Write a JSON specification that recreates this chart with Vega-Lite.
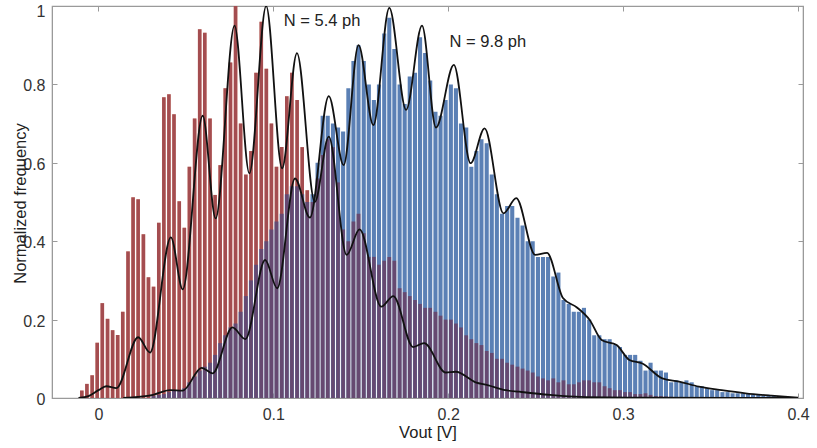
{
  "$schema": "https://vega.github.io/schema/vega-lite/v6.json",
  "width": 751,
  "height": 392,
  "autosize": {"type": "none"},
  "padding": {"left": 52, "top": 6, "right": 14, "bottom": 50},
  "background": "white",
  "config": {
    "view": {"stroke": "#9a9a9a", "strokeWidth": 1.2},
    "font": "Liberation Sans",
    "axis": {
      "domainColor": "#9a9a9a",
      "tickColor": "#9a9a9a",
      "labelFontSize": 16,
      "labelColor": "#333333",
      "titleFontSize": 16.5,
      "titleColor": "#222222",
      "labelFont": "Liberation Sans",
      "titleFont": "Liberation Sans",
      "titleFontWeight": "normal",
      "grid": false,
      "tickSize": -5,
      "labelPadding": 12
    }
  },
  "datasets": {
    "hist": [
      {"v": -0.0095, "r": 0.019, "b": 0},
      {"v": -0.0066, "r": 0.036, "b": 0},
      {"v": -0.0036, "r": 0.058, "b": 0},
      {"v": -0.0007, "r": 0.141, "b": 0},
      {"v": 0.0022, "r": 0.242, "b": 0},
      {"v": 0.0052, "r": 0.202, "b": 0},
      {"v": 0.0081, "r": 0.173, "b": 0},
      {"v": 0.0110, "r": 0.161, "b": 0},
      {"v": 0.0139, "r": 0.220, "b": 0},
      {"v": 0.0169, "r": 0.374, "b": 0},
      {"v": 0.0198, "r": 0.512, "b": 0},
      {"v": 0.0227, "r": 0.507, "b": 0},
      {"v": 0.0257, "r": 0.418, "b": 0},
      {"v": 0.0286, "r": 0.308, "b": 0},
      {"v": 0.0315, "r": 0.284, "b": 0.005},
      {"v": 0.0345, "r": 0.447, "b": 0.008},
      {"v": 0.0374, "r": 0.767, "b": 0.01},
      {"v": 0.0403, "r": 0.775, "b": 0.015},
      {"v": 0.0432, "r": 0.724, "b": 0.018},
      {"v": 0.0462, "r": 0.502, "b": 0.02},
      {"v": 0.0491, "r": 0.434, "b": 0.025},
      {"v": 0.0520, "r": 0.590, "b": 0.04},
      {"v": 0.0550, "r": 0.713, "b": 0.055},
      {"v": 0.0579, "r": 0.941, "b": 0.07},
      {"v": 0.0608, "r": 0.932, "b": 0.08},
      {"v": 0.0638, "r": 0.713, "b": 0.09},
      {"v": 0.0667, "r": 0.518, "b": 0.11},
      {"v": 0.0696, "r": 0.594, "b": 0.14},
      {"v": 0.0725, "r": 0.790, "b": 0.16},
      {"v": 0.0755, "r": 0.856, "b": 0.18},
      {"v": 0.0784, "r": 1.0, "b": 0.19},
      {"v": 0.0813, "r": 0.70, "b": 0.22},
      {"v": 0.0843, "r": 0.57, "b": 0.26},
      {"v": 0.0872, "r": 0.63, "b": 0.30},
      {"v": 0.0901, "r": 0.83, "b": 0.34},
      {"v": 0.0931, "r": 0.96, "b": 0.38},
      {"v": 0.0960, "r": 0.84, "b": 0.40},
      {"v": 0.0989, "r": 0.70, "b": 0.43},
      {"v": 0.1018, "r": 0.59, "b": 0.45},
      {"v": 0.1048, "r": 0.64, "b": 0.47},
      {"v": 0.1077, "r": 0.77, "b": 0.52},
      {"v": 0.1106, "r": 0.83, "b": 0.54},
      {"v": 0.1136, "r": 0.76, "b": 0.54},
      {"v": 0.1165, "r": 0.64, "b": 0.52},
      {"v": 0.1194, "r": 0.53, "b": 0.50},
      {"v": 0.1224, "r": 0.50, "b": 0.52},
      {"v": 0.1253, "r": 0.56, "b": 0.60},
      {"v": 0.1282, "r": 0.62, "b": 0.72},
      {"v": 0.1311, "r": 0.66, "b": 0.72},
      {"v": 0.1341, "r": 0.64, "b": 0.70},
      {"v": 0.1370, "r": 0.55, "b": 0.69},
      {"v": 0.1399, "r": 0.43, "b": 0.68},
      {"v": 0.1429, "r": 0.40, "b": 0.79},
      {"v": 0.1458, "r": 0.45, "b": 0.86},
      {"v": 0.1487, "r": 0.47, "b": 0.90},
      {"v": 0.1517, "r": 0.42, "b": 0.86},
      {"v": 0.1546, "r": 0.36, "b": 0.80},
      {"v": 0.1575, "r": 0.36, "b": 0.76},
      {"v": 0.1604, "r": 0.34, "b": 0.80},
      {"v": 0.1634, "r": 0.35, "b": 0.93},
      {"v": 0.1663, "r": 0.36, "b": 0.97},
      {"v": 0.1692, "r": 0.35, "b": 0.89},
      {"v": 0.1722, "r": 0.28, "b": 0.80},
      {"v": 0.1751, "r": 0.27, "b": 0.75},
      {"v": 0.1780, "r": 0.26, "b": 0.82},
      {"v": 0.1810, "r": 0.25, "b": 0.83},
      {"v": 0.1839, "r": 0.24, "b": 0.92},
      {"v": 0.1868, "r": 0.23, "b": 0.88},
      {"v": 0.1897, "r": 0.23, "b": 0.81},
      {"v": 0.1927, "r": 0.22, "b": 0.73},
      {"v": 0.1956, "r": 0.21, "b": 0.72},
      {"v": 0.1985, "r": 0.20, "b": 0.76},
      {"v": 0.2015, "r": 0.20, "b": 0.80},
      {"v": 0.2044, "r": 0.19, "b": 0.79},
      {"v": 0.2073, "r": 0.18, "b": 0.70},
      {"v": 0.2103, "r": 0.16, "b": 0.69},
      {"v": 0.2132, "r": 0.15, "b": 0.59},
      {"v": 0.2161, "r": 0.14, "b": 0.63},
      {"v": 0.2190, "r": 0.135, "b": 0.66},
      {"v": 0.2220, "r": 0.12, "b": 0.65},
      {"v": 0.2249, "r": 0.115, "b": 0.57},
      {"v": 0.2278, "r": 0.10, "b": 0.52},
      {"v": 0.2308, "r": 0.10, "b": 0.47},
      {"v": 0.2337, "r": 0.09, "b": 0.49},
      {"v": 0.2366, "r": 0.085, "b": 0.49},
      {"v": 0.2396, "r": 0.08, "b": 0.46},
      {"v": 0.2425, "r": 0.075, "b": 0.44},
      {"v": 0.2454, "r": 0.07, "b": 0.40},
      {"v": 0.2483, "r": 0.065, "b": 0.40},
      {"v": 0.2513, "r": 0.055, "b": 0.36},
      {"v": 0.2542, "r": 0.05, "b": 0.36},
      {"v": 0.2571, "r": 0.045, "b": 0.36},
      {"v": 0.2601, "r": 0.05, "b": 0.31},
      {"v": 0.2630, "r": 0.04, "b": 0.32},
      {"v": 0.2659, "r": 0.045, "b": 0.25},
      {"v": 0.2689, "r": 0.035, "b": 0.24},
      {"v": 0.2718, "r": 0.035, "b": 0.22},
      {"v": 0.2747, "r": 0.04, "b": 0.22},
      {"v": 0.2776, "r": 0.045, "b": 0.23},
      {"v": 0.2806, "r": 0.045, "b": 0.20},
      {"v": 0.2835, "r": 0.04, "b": 0.16},
      {"v": 0.2864, "r": 0.04, "b": 0.16},
      {"v": 0.2894, "r": 0.03, "b": 0.15},
      {"v": 0.2923, "r": 0.025, "b": 0.15},
      {"v": 0.2952, "r": 0.02, "b": 0.135},
      {"v": 0.2982, "r": 0.02, "b": 0.13},
      {"v": 0.3011, "r": 0.015, "b": 0.11},
      {"v": 0.3040, "r": 0.015, "b": 0.11},
      {"v": 0.3069, "r": 0.01, "b": 0.11},
      {"v": 0.3099, "r": 0.01, "b": 0.095},
      {"v": 0.3128, "r": 0.012, "b": 0.07},
      {"v": 0.3157, "r": 0.008, "b": 0.09},
      {"v": 0.3187, "r": 0.005, "b": 0.07},
      {"v": 0.3216, "r": 0.005, "b": 0.07},
      {"v": 0.3245, "r": 0.004, "b": 0.065},
      {"v": 0.3275, "r": 0.003, "b": 0.04},
      {"v": 0.3304, "r": 0, "b": 0.045},
      {"v": 0.3333, "r": 0, "b": 0.04},
      {"v": 0.3362, "r": 0, "b": 0.045},
      {"v": 0.3392, "r": 0, "b": 0.04},
      {"v": 0.3421, "r": 0, "b": 0.03},
      {"v": 0.3450, "r": 0, "b": 0.03},
      {"v": 0.3480, "r": 0, "b": 0.025},
      {"v": 0.3509, "r": 0, "b": 0.02},
      {"v": 0.3538, "r": 0, "b": 0.02},
      {"v": 0.3568, "r": 0, "b": 0.015},
      {"v": 0.3597, "r": 0, "b": 0.015},
      {"v": 0.3626, "r": 0, "b": 0.012},
      {"v": 0.3655, "r": 0, "b": 0.012},
      {"v": 0.3685, "r": 0, "b": 0.012},
      {"v": 0.3714, "r": 0, "b": 0.01},
      {"v": 0.3743, "r": 0, "b": 0.008},
      {"v": 0.3773, "r": 0, "b": 0.008},
      {"v": 0.3802, "r": 0, "b": 0.006},
      {"v": 0.3831, "r": 0, "b": 0.008},
      {"v": 0.3861, "r": 0, "b": 0.005},
      {"v": 0.3890, "r": 0, "b": 0.004},
      {"v": 0.3919, "r": 0, "b": 0.003},
      {"v": 0.3948, "r": 0, "b": 0.002},
      {"v": 0.3978, "r": 0, "b": 0.001}
    ],
    "redfit": [
      {"v": -0.0114, "f": 0},
      {"v": -0.0057, "f": 0.005},
      {"v": 0.0, "f": 0.02},
      {"v": 0.0045, "f": 0.03},
      {"v": 0.0102, "f": 0.025},
      {"v": 0.0227, "f": 0.155},
      {"v": 0.0295, "f": 0.116},
      {"v": 0.0414, "f": 0.41},
      {"v": 0.0482, "f": 0.277},
      {"v": 0.0596, "f": 0.72},
      {"v": 0.0670, "f": 0.458},
      {"v": 0.0778, "f": 0.95},
      {"v": 0.0863, "f": 0.573},
      {"v": 0.0959, "f": 1.0},
      {"v": 0.1050, "f": 0.586},
      {"v": 0.1135, "f": 0.88},
      {"v": 0.1237, "f": 0.50},
      {"v": 0.1317, "f": 0.667},
      {"v": 0.1419, "f": 0.365},
      {"v": 0.1493, "f": 0.43},
      {"v": 0.1617, "f": 0.233},
      {"v": 0.1686, "f": 0.26},
      {"v": 0.1799, "f": 0.13},
      {"v": 0.1862, "f": 0.14},
      {"v": 0.1986, "f": 0.065},
      {"v": 0.2043, "f": 0.067},
      {"v": 0.2157, "f": 0.04},
      {"v": 0.2225, "f": 0.033},
      {"v": 0.2327, "f": 0.02},
      {"v": 0.2406, "f": 0.016},
      {"v": 0.2582, "f": 0.008},
      {"v": 0.2753, "f": 0.003},
      {"v": 0.3150, "f": 0.001},
      {"v": 0.4, "f": 0}
    ],
    "bluefit": [
      {"v": 0.0142, "f": 0},
      {"v": 0.0312, "f": 0.008},
      {"v": 0.0409, "f": 0.02},
      {"v": 0.0482, "f": 0.019},
      {"v": 0.0590, "f": 0.077},
      {"v": 0.0653, "f": 0.063},
      {"v": 0.0766, "f": 0.18},
      {"v": 0.0840, "f": 0.15},
      {"v": 0.0953, "f": 0.352},
      {"v": 0.1022, "f": 0.28},
      {"v": 0.1124, "f": 0.56},
      {"v": 0.1209, "f": 0.46},
      {"v": 0.1317, "f": 0.77},
      {"v": 0.1402, "f": 0.594},
      {"v": 0.1487, "f": 0.90},
      {"v": 0.1572, "f": 0.696},
      {"v": 0.1663, "f": 0.995},
      {"v": 0.1759, "f": 0.735},
      {"v": 0.1850, "f": 0.95},
      {"v": 0.1930, "f": 0.69},
      {"v": 0.2032, "f": 0.85},
      {"v": 0.2128, "f": 0.599},
      {"v": 0.2208, "f": 0.688},
      {"v": 0.2316, "f": 0.471},
      {"v": 0.2389, "f": 0.51},
      {"v": 0.2497, "f": 0.365},
      {"v": 0.2565, "f": 0.37},
      {"v": 0.2656, "f": 0.255},
      {"v": 0.2736, "f": 0.231},
      {"v": 0.2809, "f": 0.199},
      {"v": 0.2877, "f": 0.148},
      {"v": 0.2963, "f": 0.135},
      {"v": 0.3036, "f": 0.097},
      {"v": 0.3110, "f": 0.088},
      {"v": 0.3224, "f": 0.05},
      {"v": 0.3320, "f": 0.042},
      {"v": 0.3433, "f": 0.029},
      {"v": 0.3564, "f": 0.02},
      {"v": 0.3700, "f": 0.012},
      {"v": 0.3848, "f": 0.006},
      {"v": 0.4, "f": 0.001}
    ],
    "notes": [
      {"v": 0.106, "f": 0.948, "label": "N = 5.4 ph"},
      {"v": 0.2008, "f": 0.895, "label": "N = 9.8 ph"}
    ]
  },
  "layer": [
    {
      "data": {"name": "hist"},
      "mark": {"type": "bar", "color": "#e88a6a", "size": 3.6},
      "encoding": {
        "x": {
          "field": "v", "type": "quantitative",
          "scale": {"domain": [-0.0237, 0.4], "nice": false, "zero": false},
          "axis": {
            "orient": "bottom", "values": [0, 0.1, 0.2, 0.3, 0.4], "format": "~g",
            "labelFlush": false, "labelPadding": 13,
            "title": "Vout [V]", "titleY": 39, "titleBaseline": "alphabetic"
          }
        },
        "y": {
          "field": "r", "type": "quantitative",
          "scale": {"domain": [0, 1], "nice": false},
          "axis": {
            "orient": "left", "values": [0, 0.2, 0.4, 0.6, 0.8, 1], "format": "~g",
            "labelOffset": {"condition": {"test": "datum.value >= 1", "value": 5}, "value": 1.5},
            "title": "Normalized frequency", "titleX": -27, "titleY": 197,
            "titleAngle": -90, "titleAlign": "center", "titleBaseline": "alphabetic"
          }
        }
      }
    },
    {
      "data": {"name": "hist"},
      "mark": {"type": "bar", "color": "#5b80b5", "size": 4.1},
      "encoding": {
        "x": {
          "field": "v", "type": "quantitative",
          "axis": {"orient": "top", "values": [0, 0.1, 0.2, 0.3, 0.4], "labels": false, "title": null}
        },
        "y": {
          "field": "b", "type": "quantitative",
          "axis": {"orient": "right", "values": [0, 0.2, 0.4, 0.6, 0.8, 1], "labels": false, "title": null}
        }
      }
    },
    {
      "data": {"name": "hist"},
      "mark": {"type": "bar", "color": "#6e1e3c", "opacity": 0.56, "size": 3.6},
      "encoding": {
        "x": {"field": "v", "type": "quantitative", "axis": null},
        "y": {"field": "r", "type": "quantitative", "axis": null}
      }
    },
    {
      "data": {"name": "redfit"},
      "mark": {"type": "line", "color": "#111111", "strokeWidth": 1.8, "interpolate": "monotone", "clip": true},
      "encoding": {
        "x": {"field": "v", "type": "quantitative", "axis": null},
        "y": {"field": "f", "type": "quantitative", "axis": null}
      }
    },
    {
      "data": {"name": "bluefit"},
      "mark": {"type": "line", "color": "#111111", "strokeWidth": 1.8, "interpolate": "monotone", "clip": true},
      "encoding": {
        "x": {"field": "v", "type": "quantitative", "axis": null},
        "y": {"field": "f", "type": "quantitative", "axis": null}
      }
    },
    {
      "data": {"name": "notes"},
      "mark": {"type": "text", "align": "left", "baseline": "alphabetic", "fontSize": 16.5, "color": "#222222", "font": "Liberation Sans"},
      "encoding": {
        "x": {"field": "v", "type": "quantitative", "axis": null},
        "y": {"field": "f", "type": "quantitative", "axis": null},
        "text": {"field": "label"}
      }
    }
  ],
  "resolve": {"axis": {"x": "independent", "y": "independent"}}
}
